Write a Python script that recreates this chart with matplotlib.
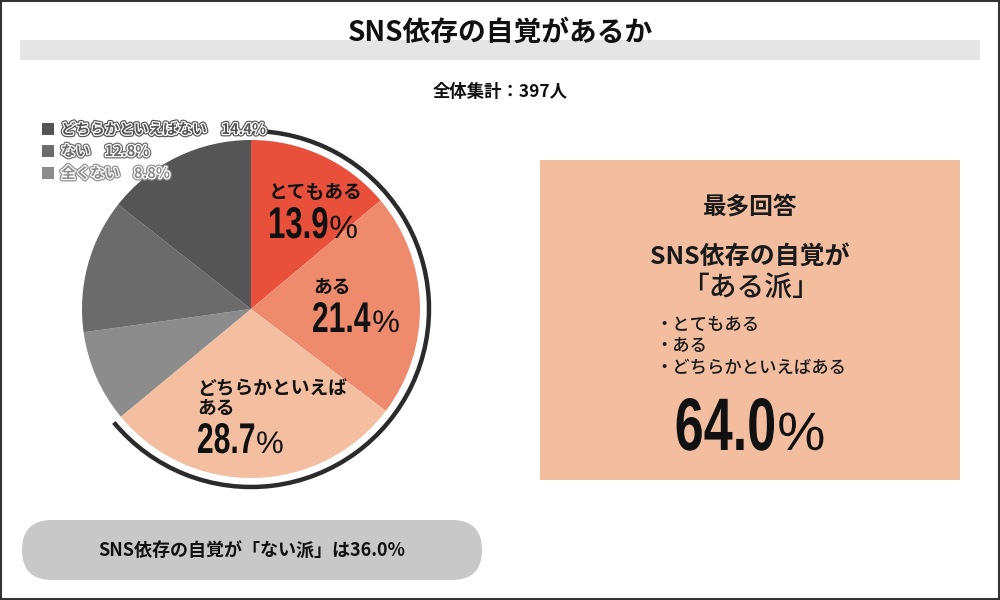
import matplotlib
matplotlib.use('Agg')
import matplotlib.pyplot as plt
from matplotlib.patches import Rectangle, FancyBboxPatch, Arc, PathPatch
from matplotlib.textpath import TextPath
from matplotlib.font_manager import FontProperties
from matplotlib.transforms import Affine2D
import matplotlib.patheffects as pe

plt.rcParams['font.family'] = ['Noto Sans CJK JP', 'DejaVu Sans']

# ---------------- data ----------------
title = 'SNS依存の自覚があるか'
total_n = 397
categories = ['とてもある', 'ある', 'どちらかといえばある', '全くない', 'ない', 'どちらかといえばない']
values = [13.9, 21.4, 28.7, 8.8, 12.8, 14.4]
colors = ['#E8503C', '#EE8B6D', '#F4BFA0', '#8C8C8C', '#6B6B6B', '#555555']
aru_share = round(sum(values[:3]), 1)   # 64.0
nai_share = round(sum(values[3:]), 1)   # 36.0

W, H = 1000, 600
fig = plt.figure(figsize=(10, 6), dpi=100)
ax = fig.add_axes([0, 0, 1, 1])


def Y(y):
    return H - y


# ---------------- pie ----------------
cx, cy, r = 251, 309, 169
ax.pie(values, colors=colors, startangle=90, counterclock=False,
       center=(cx, Y(cy)), radius=r, wedgeprops=dict(linewidth=0))
ax.set_xlim(0, W)
ax.set_ylim(0, H)
ax.set_aspect('auto')
ax.axis('off')

# arc around "ある派"
ax.add_patch(Arc((cx, Y(cy)), 2 * 178, 2 * 178, theta1=90 - aru_share * 3.6, theta2=90,
                 color='#2b2b2b', lw=3.2, zorder=3))

# ---------------- helpers ----------------
NUMFONT_B = FontProperties(family='Liberation Sans', weight='bold')
NUMFONT_R = FontProperties(family='Liberation Sans', weight='normal')


def draw_pct(x, yb, value, h, sx=0.7, psx=1.0, color='#111111', ha='left'):
    p = TextPath((0, 0), f'{value:.1f}', size=100, prop=NUMFONT_B)
    e = p.get_extents()
    k = h / e.y1
    wnum = (e.x1 - e.x0) * k * sx
    q = TextPath((0, 0), '%', size=100, prop=NUMFONT_R)
    e2 = q.get_extents()
    k2 = 0.72 * h / e2.y1
    wp = (e2.x1 - e2.x0) * k2 * psx
    gap = 0.1 * h
    total = wnum + gap + wp
    if ha == 'center':
        x = x - total / 2
    t = Affine2D().scale(k * sx, k).translate(x - e.x0 * k * sx, Y(yb))
    ax.add_patch(PathPatch(t.transform_path(p), fc=color, ec='none', zorder=5))
    xr = x + wnum + gap
    t2 = Affine2D().scale(k2 * psx, k2).translate(xr - e2.x0 * k2 * psx, Y(yb))
    ax.add_patch(PathPatch(t2.transform_path(q), fc=color, ec='none', zorder=5))


# ---------------- frame & title ----------------
ax.add_patch(Rectangle((1, 1), W - 2, H - 2, fill=False, ec='#333333', lw=1.5, zorder=10))
ax.add_patch(Rectangle((20, Y(60)), 960, 20, fc='#E5E5E5', ec='none', zorder=1))
ax.text(500, Y(33), title, ha='center', va='center', fontsize=20, fontweight='bold',
        color='#111111', zorder=4)
ax.text(500, Y(92), f'全体集計：{total_n}人', ha='center', va='center', fontsize=12.5,
        fontweight='bold', color='#111111')

# ---------------- legend (grey categories) ----------------
leg_items = list(zip(categories[3:], values[3:], colors[3:]))[::-1]
for i, (lab, v, c) in enumerate(leg_items):
    yc = 129 + 22 * i
    ax.add_patch(Rectangle((42, Y(yc + 6)), 12, 12, fc=c, ec='none', zorder=6))
    ax.text(61, Y(yc), f'{lab}　{v:.1f}%', ha='left', va='center', fontsize=10.5,
            fontweight='bold', color=c, zorder=6,
            path_effects=[pe.Stroke(linewidth=3.5, foreground=c),
                          pe.Stroke(linewidth=1.8, foreground='white'), pe.Normal()])

# ---------------- pie labels ----------------
ax.text(269, Y(193), categories[0], ha='left', va='center', fontsize=13.5,
        fontweight='bold', color='#111111', zorder=5)
draw_pct(270, 238, values[0], 31)
ax.text(313, Y(287), categories[1], ha='left', va='center', fontsize=13.5,
        fontweight='bold', color='#111111', zorder=5)
draw_pct(313, 332, values[1], 30)
ax.text(197, Y(388), 'どちらかといえば', ha='left', va='center', fontsize=13.5,
        fontweight='bold', color='#111111', zorder=5)
ax.text(197, Y(408), 'ある', ha='left', va='center', fontsize=13.5,
        fontweight='bold', color='#111111', zorder=5)
draw_pct(198, 453, values[2], 30)

# ---------------- right box ----------------
ax.add_patch(Rectangle((540, Y(480)), 420, 320, fc='#F3BD9F', ec='none', zorder=1))
ax.text(750, Y(207), '最多回答', ha='center', va='center', fontsize=17,
        fontweight='bold', color='#1a1a1a')
ax.text(750, Y(257), 'SNS依存の自覚が', ha='center', va='center', fontsize=18,
        fontweight='bold', color='#1a1a1a')
ax.text(750, Y(288), '「ある派」', ha='center', va='center', fontsize=20,
        fontweight='medium', color='#1a1a1a')
for i, lab in enumerate(categories[:3]):
    ax.text(655, Y(325 + 21.5 * i), '・' + lab, ha='left', va='center', fontsize=12.5,
            fontweight='medium', color='#1a1a1a')
draw_pct(750, 450, aru_share, 52, ha='center')

# ---------------- bottom pill ----------------
ax.add_patch(FancyBboxPatch((22, Y(580)), 460, 60,
                            boxstyle='round,pad=0,rounding_size=30',
                            fc='#C8C8C8', ec='none', zorder=1))
ax.text(252, Y(550), f'SNS依存の自覚が「ない派」は{nai_share:.1f}%', ha='center', va='center',
        fontsize=13, fontweight='bold', color='#111111')

fig.savefig('out.png', dpi=100, facecolor='white')
